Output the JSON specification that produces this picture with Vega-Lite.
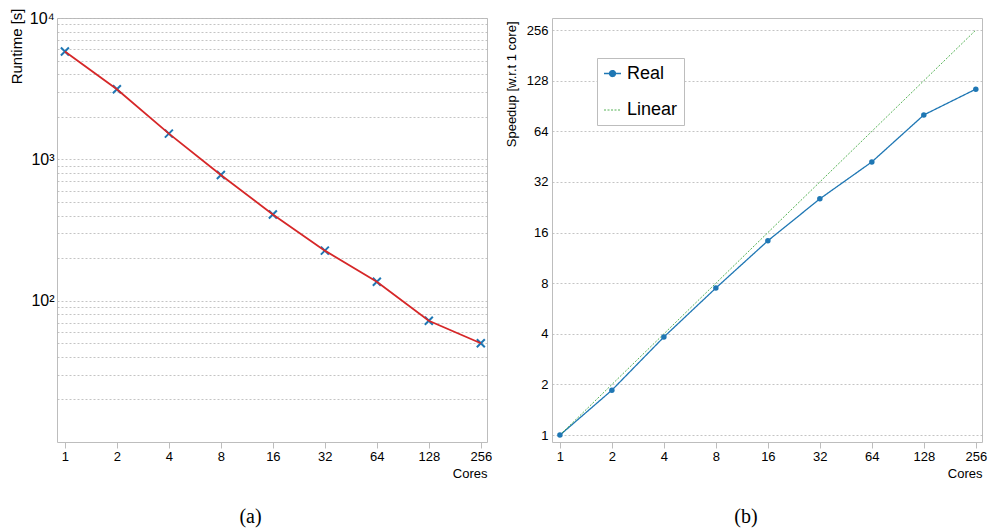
{
  "$schema": "https://vega.github.io/schema/vega-lite/v6.json",
  "padding": {"left": 8, "top": 7, "right": 0, "bottom": 0},
  "background": "white",
  "config": {
    "view": {"stroke": "#bdbdbd", "strokeWidth": 1},
    "font": "Liberation Sans",
    "axis": {
      "labelFont": "Liberation Sans", "titleFont": "Liberation Sans",
      "labelColor": "#000", "titleColor": "#000", "titleFontWeight": "normal",
      "domain": false, "gridColor": "#b5b5b5", "gridDash": [2, 2], "gridWidth": 0.8,
      "tickColor": "#bdbdbd", "labelOverlap": false
    }
  },
  "datasets": {
    "runtime": [
      {"cores": 1, "runtime": 5800},
      {"cores": 2, "runtime": 3130},
      {"cores": 4, "runtime": 1520},
      {"cores": 8, "runtime": 774},
      {"cores": 16, "runtime": 407},
      {"cores": 32, "runtime": 226},
      {"cores": 64, "runtime": 136},
      {"cores": 128, "runtime": 72},
      {"cores": 256, "runtime": 50}
    ],
    "speedup": [
      {"cores": 1, "speedup": 1, "series": "Real"},
      {"cores": 2, "speedup": 1.85, "series": "Real"},
      {"cores": 4, "speedup": 3.83, "series": "Real"},
      {"cores": 8, "speedup": 7.49, "series": "Real"},
      {"cores": 16, "speedup": 14.3, "series": "Real"},
      {"cores": 32, "speedup": 25.4, "series": "Real"},
      {"cores": 64, "speedup": 42.1, "series": "Real"},
      {"cores": 128, "speedup": 80.1, "series": "Real"},
      {"cores": 256, "speedup": 114, "series": "Real"},
      {"cores": 1, "speedup": 1, "series": "Linear"},
      {"cores": 2, "speedup": 2, "series": "Linear"},
      {"cores": 4, "speedup": 4, "series": "Linear"},
      {"cores": 8, "speedup": 8, "series": "Linear"},
      {"cores": 16, "speedup": 16, "series": "Linear"},
      {"cores": 32, "speedup": 32, "series": "Linear"},
      {"cores": 64, "speedup": 64, "series": "Linear"},
      {"cores": 128, "speedup": 128, "series": "Linear"},
      {"cores": 256, "speedup": 256, "series": "Linear"}
    ]
  },
  "spacing": 11,
  "hconcat": [
    {
      "width": 430,
      "height": 424,
      "data": {"name": "runtime"},
      "title": {"text": "(a)", "orient": "bottom", "anchor": "middle", "frame": "bounds", "font": "Liberation Serif", "fontSize": 20, "fontWeight": "normal", "offset": 27, "color": "#000"},
      "encoding": {
        "x": {
          "field": "cores", "type": "quantitative",
          "scale": {"type": "log", "base": 2, "domain": [0.9, 278], "nice": false},
          "axis": {"values": [1, 2, 4, 8, 16, 32, 64, 128, 256], "format": "d", "grid": false, "title": "Cores", "titleAnchor": "end", "tickSize": 6, "labelFontSize": 13, "titleFontSize": 13, "labelPadding": 2, "titlePadding": 4, "labelFlush": false}
        },
        "y": {
          "field": "runtime", "type": "quantitative",
          "scale": {"type": "log", "domain": [10, 10000], "nice": false},
          "axis": {
            "values": [20, 30, 40, 50, 60, 70, 80, 90, 100, 200, 300, 400, 500, 600, 700, 800, 900, 1000, 2000, 3000, 4000, 5000, 6000, 7000, 8000, 9000, 10000],
            "labelExpr": "datum.value == 100 ? '10²' : datum.value == 1000 ? '10³' : datum.value == 10000 ? '10⁴' : ''",
            "title": "Runtime [s]", "ticks": false, "labelFontSize": 16, "titleFontSize": 15, "labelPadding": 3,
            "titleY": -10, "titleAlign": "right", "titleAngle": 270, "titlePadding": 5
          }
        }
      },
      "layer": [
        {"mark": {"type": "point", "shape": "M-1,-1L1,1M-1,1L1,-1", "filled": false, "color": "#1f77b4", "strokeWidth": 2, "size": 64, "opacity": 1}},
        {"mark": {"type": "line", "color": "#d62728", "strokeWidth": 1.8}}
      ]
    },
    {
      "width": 430,
      "height": 424,
      "data": {"name": "speedup"},
      "title": {"text": "(b)", "orient": "bottom", "anchor": "middle", "frame": "bounds", "font": "Liberation Serif", "fontSize": 20, "fontWeight": "normal", "offset": 27, "color": "#000"},
      "encoding": {
        "x": {
          "field": "cores", "type": "quantitative",
          "scale": {"type": "log", "base": 2, "domain": [0.9, 278], "nice": false},
          "axis": {"values": [1, 2, 4, 8, 16, 32, 64, 128, 256], "format": "d", "grid": false, "title": "Cores", "titleAnchor": "end", "tickSize": 6, "labelFontSize": 13, "titleFontSize": 13, "labelPadding": 2, "titlePadding": 4, "labelFlush": false}
        },
        "y": {
          "field": "speedup", "type": "quantitative",
          "scale": {"type": "log", "base": 2, "domain": [0.91, 302], "nice": false},
          "axis": {
            "values": [1, 2, 4, 8, 16, 32, 64, 128, 256], "format": "d",
            "title": "Speedup [w.r.t 1 core]", "ticks": false, "labelFontSize": 13, "titleFontSize": 13, "labelPadding": 4,
            "titleY": 3, "titleAlign": "right", "titleAngle": 270, "titlePadding": 8
          }
        },
        "color": {
          "field": "series", "type": "nominal",
          "scale": {"domain": ["Real", "Linear"], "range": ["#1f77b4", "#2ca02c"]},
          "legend": {
            "title": null, "orient": "none", "legendX": 540, "legendY": 40,
            "fillColor": "white", "strokeColor": "#bdbdbd", "padding": 6,
            "labelFontSize": 18, "labelFont": "Liberation Sans", "labelColor": "#000",
            "symbolSize": 289, "rowPadding": 18, "labelOffset": 5,
            "labelExpr": "datum.label + '      '",
            "encode": {
              "symbols": {
                "update": {
                  "shape": {"signal": "datum.value === 'Real' ? 'M-1,0L-0.35,0A0.35,0.35 0 1,1 0.35,0A0.35,0.35 0 1,1 -0.35,0M0.35,0L1,0' : 'M-1,0L1,0'"},
                  "fill": {"signal": "datum.value === 'Real' ? '#1f77b4' : 'transparent'"},
                  "fillOpacity": {"value": 1},
                  "strokeDash": {"signal": "datum.value === 'Real' ? [1, 0] : [2, 1.5]"},
                  "strokeWidth": {"signal": "datum.value === 'Real' ? 1.3 : 0.9"}
                }
              }
            }
          }
        }
      },
      "layer": [
        {
          "mark": {"type": "line"},
          "encoding": {
            "strokeWidth": {"field": "series", "type": "nominal", "scale": {"domain": ["Real", "Linear"], "range": [1.3, 0.8]}, "legend": null},
            "strokeDash": {"field": "series", "type": "nominal", "scale": {"domain": ["Real", "Linear"], "range": [[1, 0], [2, 1.5]]}, "legend": null}
          }
        },
        {
          "transform": [{"filter": "datum.series === 'Real'"}],
          "mark": {"type": "circle", "size": 30, "opacity": 1}
        }
      ]
    }
  ]
}
